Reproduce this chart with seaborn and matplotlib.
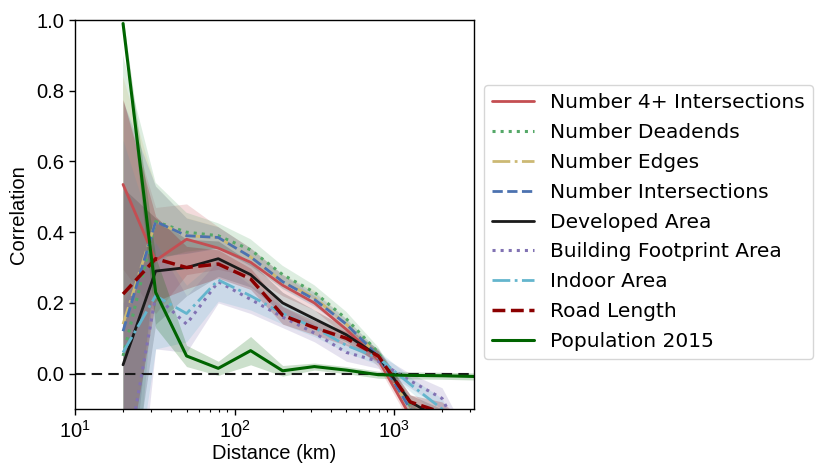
import numpy as np
import pandas as pd
import matplotlib
matplotlib.use("Agg")
import matplotlib.pyplot as plt
import seaborn as sns

# ---------------- data ----------------
distance_km = [20, 32, 50, 79, 126, 200, 316, 501, 794, 1259, 1995, 3162]

series_names = [
    "Number 4+ Intersections",
    "Number Deadends",
    "Number Edges",
    "Number Intersections",
    "Developed Area",
    "Building Footprint Area",
    "Indoor Area",
    "Road Length",
    "Population 2015",
]

intersections4 = [0.535, 0.32, 0.38, 0.355, 0.315, 0.25, 0.20, 0.125, 0.04, -0.12, -0.20, -0.30]
deadends       = [0.05, 0.43, 0.40, 0.39, 0.35, 0.28, 0.23, 0.155, 0.06, -0.09, -0.20, -0.30]
edges          = [0.14, 0.43, 0.39, 0.385, 0.33, 0.26, 0.215, 0.14, 0.05, -0.10, -0.20, -0.30]
intersections  = [0.12, 0.43, 0.39, 0.385, 0.33, 0.26, 0.21, 0.14, 0.05, -0.10, -0.20, -0.30]
developed      = [0.025, 0.29, 0.30, 0.325, 0.28, 0.20, 0.155, 0.11, 0.05, -0.08, -0.13, -0.20]
footprint      = [-0.30, 0.22, 0.14, 0.26, 0.21, 0.16, 0.115, 0.06, 0.035, -0.02, -0.07, -0.25]
indoor         = [0.06, 0.22, 0.17, 0.265, 0.22, 0.17, 0.13, 0.08, 0.045, -0.03, -0.10, -0.30]
road_length    = [0.225, 0.325, 0.30, 0.31, 0.268, 0.165, 0.13, 0.10, 0.05, -0.08, -0.11, -0.20]
population     = [0.99, 0.23, 0.05, 0.015, 0.065, 0.008, 0.02, 0.01, -0.003, -0.005, -0.006, -0.008]

# confidence half-widths
err_intersections4 = [0.24, 0.15, 0.10, 0.06, 0.04, 0.03, 0.02, 0.02, 0.02, 0.02, 0.03, 0.04]
err_deadends       = [0.85, 0.11, 0.055, 0.035, 0.03, 0.025, 0.02, 0.02, 0.015, 0.02, 0.03, 0.04]
err_edges          = [0.70, 0.10, 0.05, 0.03, 0.025, 0.02, 0.02, 0.015, 0.015, 0.02, 0.03, 0.04]
err_intersections  = [0.65, 0.10, 0.05, 0.03, 0.025, 0.02, 0.02, 0.015, 0.015, 0.02, 0.03, 0.04]
err_developed      = [0.50, 0.15, 0.08, 0.05, 0.035, 0.03, 0.025, 0.02, 0.02, 0.02, 0.03, 0.04]
err_footprint      = [0.50, 0.15, 0.08, 0.06, 0.04, 0.03, 0.025, 0.025, 0.02, 0.02, 0.03, 0.04]
err_indoor         = [0.60, 0.15, 0.08, 0.06, 0.04, 0.03, 0.025, 0.02, 0.02, 0.02, 0.03, 0.04]
err_road_length    = [0.55, 0.12, 0.06, 0.04, 0.03, 0.025, 0.02, 0.02, 0.015, 0.02, 0.03, 0.04]
err_population     = [0.02, 0.10, 0.03, 0.02, 0.04, 0.015, 0.01, 0.01, 0.01, 0.01, 0.01, 0.01]

x_ticks = [10, 100, 1000]
y_ticks = [0.0, 0.2, 0.4, 0.6, 0.8, 1.0]

# ---------------- style ----------------
sns.set_theme(style="ticks", color_codes=True)
plt.rcParams["font.family"] = ["Liberation Sans", "DejaVu Sans"]
plt.rcParams["axes.edgecolor"] = "black"
plt.rcParams["xtick.color"] = "black"
plt.rcParams["ytick.color"] = "black"
plt.rcParams["text.color"] = "black"
plt.rcParams["axes.labelcolor"] = "black"

values = [intersections4, deadends, edges, intersections, developed,
          footprint, indoor, road_length, population]
errors = [err_intersections4, err_deadends, err_edges, err_intersections, err_developed,
          err_footprint, err_indoor, err_road_length, err_population]
colors = ["r", "g", "y", "b", "k", "m", "c", "darkred", "darkgreen"]
styles = ["-", ":", "-.", "--", "-", ":", "-.", "--", "-"]
widths = [2.0, 2.2, 2.0, 2.0, 2.0, 2.2, 2.0, 2.5, 2.2]

fig = plt.figure(figsize=(8.15, 4.72), dpi=100)
ax = fig.add_axes([75 / 815, 1 - 409 / 472, 399 / 815, 389 / 472])

for name, v, e, c, ls, lw in zip(series_names, values, errors, colors, styles, widths):
    df = pd.DataFrame({"Distance": distance_km, "Correlation": v})
    sns.lineplot(data=df, x="Distance", y="Correlation", ax=ax, color=c,
                 linestyle=ls, linewidth=lw, label=name, errorbar=None)
    v_arr = np.array(v)
    e_arr = np.array(e)
    ax.fill_between(distance_km, v_arr - e_arr, v_arr + e_arr, color=c,
                    alpha=0.2, linewidth=0)

ax.axhline(0, color="k", linestyle=(0, (5, 3)), linewidth=1.5, zorder=1)

ax.set_xscale("log")
ax.set_xlim(10, 3162)
ax.set_ylim(-0.1, 1.0)
ax.set_xticks(x_ticks)
ax.set_yticks(y_ticks)
ax.set_yticklabels([f"{t:.1f}" for t in y_ticks])
ax.tick_params(axis="both", which="major", labelsize=14.5, length=4, width=1,
               labelcolor="black")
ax.tick_params(axis="x", which="minor", length=2.5, width=0.8)
ax.set_xlabel("Distance (km)", fontsize=14.5, labelpad=2)
ax.set_ylabel("Correlation", fontsize=14.5, labelpad=6)
for sp in ax.spines.values():
    sp.set_color("black")
    sp.set_linewidth(1.0)

leg = ax.legend(loc="upper left", bbox_to_anchor=(484 / 815, 1 - 85 / 472),
                bbox_transform=fig.transFigure, borderaxespad=0,
                prop={"family": "DejaVu Sans", "size": 14.5},
                handlelength=2.1, labelspacing=0.54, frameon=True)
leg.get_frame().set_edgecolor("#cccccc")
for t in leg.get_texts():
    t.set_color("black")

fig.savefig("out.png", dpi=100)
